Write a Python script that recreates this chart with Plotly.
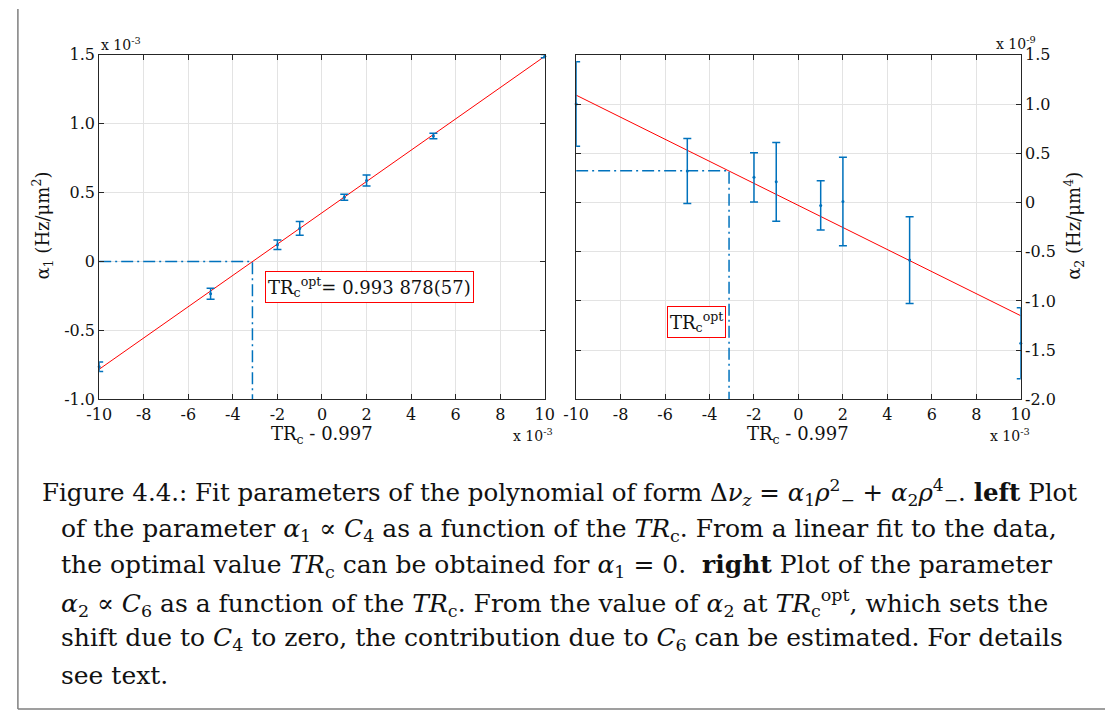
import plotly.graph_objects as go

# ---------------- data (values in units shown on the axes) ----------------
tr_x = [-10, -5, -2, -1, 1, 2, 5, 10]                      # TRc - 0.997  (x 1e-3)
alpha1 = [-0.763, -0.233, 0.122, 0.240, 0.466, 0.588, 0.911, 1.490]   # x 1e-3
alpha1_err = [0.035, 0.040, 0.035, 0.050, 0.022, 0.040, 0.020, 0.012]
alpha2 = [1.00, 0.32, 0.255, 0.21, -0.03, 0.01, -0.585, -1.43]        # x 1e-9
alpha2_err = [0.43, 0.33, 0.25, 0.40, 0.25, 0.45, 0.44, 0.36]
fit_x = [-10, 10]
fit1_y = [-0.781, 1.489]
fit2_y = [1.09, -1.15]
tr_opt = -3.122
alpha2_opt = 0.323

x_ticks = [-10, -8, -6, -4, -2, 0, 2, 4, 6, 8, 10]
x_labels = ["-10", "-8", "-6", "-4", "-2", "0", "2", "4", "6", "8", "10"]
y1_ticks = [-1.0, -0.5, 0, 0.5, 1.0, 1.5]
y1_labels = ["-1.0", "-0.5", "0", "0.5", "1.0", "1.5"]
y2_ticks = [-2.0, -1.5, -1.0, -0.5, 0, 0.5, 1.0, 1.5]
y2_labels = ["-2.0", "-1.5", "-1.0", "-0.5", "0", "0.5", "1.0", "1.5"]

caption_lines = [
    "Figure 4.4.: Fit parameters of the polynomial of form Δ<i>ν</i><sub><i>z</i></sub> = <i>α</i><sub>1</sub><i>ρ</i><sup>2</sup><sub>−</sub> + <i>α</i><sub>2</sub><i>ρ</i><sup>4</sup><sub>−</sub>. <b>left</b> Plot",
    "of the parameter <i>α</i><sub>1</sub> ∝ <i>C</i><sub>4</sub> as a function of the <i>TR</i><sub>c</sub>. From a linear fit to the data,",
    "the optimal value <i>TR</i><sub>c</sub> can be obtained for <i>α</i><sub>1</sub> = 0.  <b>right</b> Plot of the parameter",
    "<i>α</i><sub>2</sub> ∝ <i>C</i><sub>6</sub> as a function of the <i>TR</i><sub>c</sub>. From the value of <i>α</i><sub>2</sub> at <i>TR</i><sub>c</sub><sup>opt</sup>, which sets the",
    "shift due to <i>C</i><sub>4</sub> to zero, the contribution due to <i>C</i><sub>6</sub> can be estimated. For details",
    "see text.",
]
caption_sizes = [24.5, 25, 25, 25, 25, 25]

# ---------------- styling ----------------
W, H = 1115, 722
BLUE = "#0072BD"
RED = "#FF0000"
AX = "#262626"
GRID = "#e3e3e3"
TFONT = "DejaVu Serif"
CFONT = "DejaVu Serif"


def px(x):
    return x / W


def py(y):
    return 1 - y / H


fig = go.Figure()

# left panel
fig.add_trace(go.Scatter(x=fit_x, y=fit1_y, mode="lines", line=dict(color=RED, width=1),
                         xaxis="x", yaxis="y", showlegend=False))
fig.add_trace(go.Scatter(x=[fit_x[0], tr_opt, tr_opt], y=[0, 0, y1_ticks[0]], mode="lines",
                         line=dict(color=BLUE, width=1.5, dash="12px,4px,2px,4px"),
                         xaxis="x", yaxis="y", showlegend=False))
fig.add_trace(go.Scatter(x=tr_x, y=alpha1, mode="markers",
                         marker=dict(color=BLUE, size=3),
                         error_y=dict(type="data", array=alpha1_err, color=BLUE, thickness=1.5, width=4),
                         cliponaxis=False, xaxis="x", yaxis="y", showlegend=False))

# right panel
fig.add_trace(go.Scatter(x=fit_x, y=fit2_y, mode="lines", line=dict(color=RED, width=1),
                         xaxis="x2", yaxis="y2", showlegend=False))
fig.add_trace(go.Scatter(x=[fit_x[0], tr_opt, tr_opt], y=[alpha2_opt, alpha2_opt, y2_ticks[0]], mode="lines",
                         line=dict(color=BLUE, width=1.5, dash="12px,4px,2px,4px"),
                         xaxis="x2", yaxis="y2", showlegend=False))
fig.add_trace(go.Scatter(x=tr_x, y=alpha2, mode="markers",
                         marker=dict(color=BLUE, size=3),
                         error_y=dict(type="data", array=alpha2_err, color=BLUE, thickness=1.5, width=4),
                         cliponaxis=False, xaxis="x2", yaxis="y2", showlegend=False))

axis_common = dict(showline=True, linecolor=AX, linewidth=1, mirror="ticks",
                   ticks="inside", ticklen=5, tickcolor=AX, tickwidth=1,
                   showgrid=True, gridcolor=GRID, gridwidth=1, zeroline=False,
                   tickfont=dict(family=TFONT, size=16, color="#111"))

y_dom = [py(401), py(47)]
fig.update_layout(
    width=W, height=H, margin=dict(l=0, r=0, t=0, b=0),
    paper_bgcolor="white", plot_bgcolor="white",
    xaxis=dict(domain=[px(88), px(543)], range=[-10, 10], tickmode="array",
               tickvals=x_ticks, ticktext=x_labels, anchor="y", **axis_common),
    yaxis=dict(domain=y_dom, range=[-1.0, 1.5], tickmode="array",
               tickvals=y1_ticks, ticktext=y1_labels, anchor="x", **axis_common),
    xaxis2=dict(domain=[px(575), px(1029)], range=[-10, 10], tickmode="array",
                tickvals=x_ticks, ticktext=x_labels, anchor="y2", **axis_common),
    yaxis2=dict(domain=y_dom, range=[-2.0, 1.5], tickmode="array", side="right",
                tickvals=y2_ticks, ticktext=y2_labels, anchor="x2", **axis_common),
)

ann = []


def text(x, y, s, size=15, xanchor="center", yanchor="middle", angle=0, family=TFONT, **kw):
    ann.append(dict(x=px(x), y=py(y), xref="paper", yref="paper", text=s, showarrow=False,
                    xanchor=xanchor, yanchor=yanchor, textangle=angle,
                    font=dict(family=family, size=size, color="#111"), **kw))


# axis titles
text(30, 222, "α<sub>1</sub> (Hz/μm<sup>2</sup>)", size=18, angle=-90)
text(1083, 223, "α<sub>2</sub> (Hz/μm<sup>4</sup>)", size=18, angle=-90)
text(316, 437, "TR<sub>c</sub> - 0.997", size=18)
text(802, 437, "TR<sub>c</sub> - 0.997", size=18)
# exponent labels
text(88, 36, "x 10<sup>-3</sup>", size=14, xanchor="left")
text(553, 437, "x 10<sup>-3</sup>", size=14, xanchor="right")
text(1040, 437, "x 10<sup>-3</sup>", size=14, xanchor="right")
text(1047, 35, "x 10<sup>-9</sup>", size=14, xanchor="right")
# boxes
text(364, 286, "TR<sub>c</sub><sup>opt</sup>= 0.993 878(57)", size=18,
     bordercolor=RED, borderwidth=1, borderpad=2, bgcolor="white")
text(698, 321, "TR<sub>c</sub><sup>opt</sup>", size=18,
     bordercolor=RED, borderwidth=1, borderpad=2, bgcolor="white")

# caption
cap_y = [497, 535, 572, 610, 647, 684]
for i, (line, yy, sz) in enumerate(zip(caption_lines, cap_y, caption_sizes)):
    text(28 if i == 0 else 47, yy, line, size=sz, xanchor="left", family=CFONT)

fig.update_layout(annotations=ann)

# frame lines (left and bottom edges of the page box)
fig.update_layout(shapes=[
    dict(type="line", xref="paper", yref="paper", x0=px(5), x1=px(5), y0=py(0), y1=py(719),
         line=dict(color="#7f7f7f", width=1.5)),
    dict(type="line", xref="paper", yref="paper", x0=px(5), x1=1, y0=py(719), y1=py(719),
         line=dict(color="#7f7f7f", width=1.5)),
])

fig.write_html("out.html",
               post_script="document.body.style.margin='0';document.body.style.overflow='hidden';")
